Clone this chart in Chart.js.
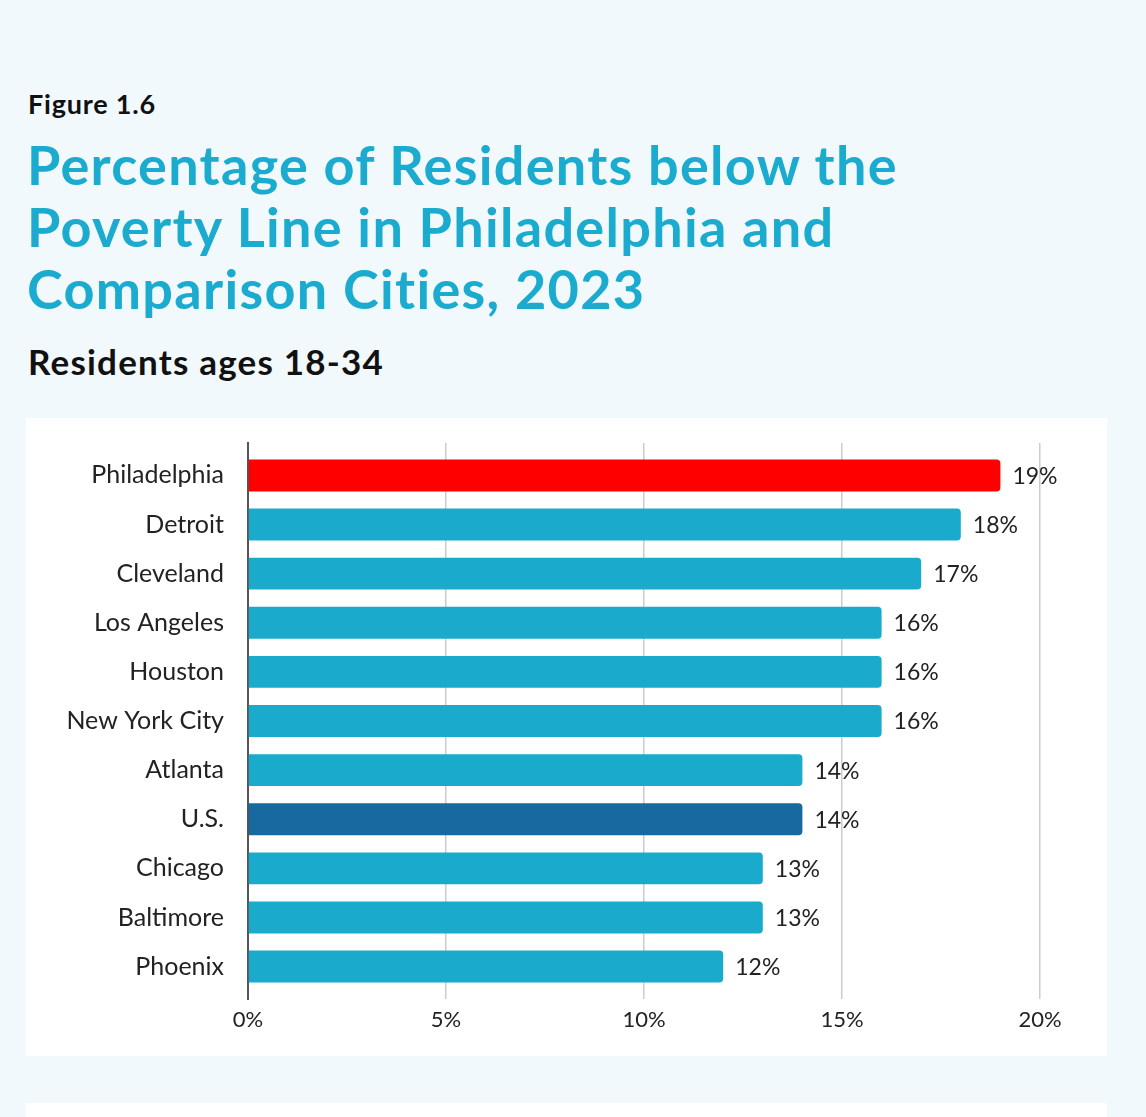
<!DOCTYPE html>
<html>
<head>
<meta charset="utf-8">
<script src="https://cdn.jsdelivr.net/npm/chart.js@4"></script>
<style>
  html, body { margin: 0; padding: 0; }
  body {
    width: 1146px;
    height: 1117px;
    background: #f2f9fc;
    position: relative;
    overflow: hidden;
    font-family: Lato, sans-serif;
  }
  .fig {
    position: absolute; left: 28px; top: 87px;
    font-size: 27px; font-weight: 700; color: #111;
    letter-spacing: 0.8px;
  }
  .title {
    position: absolute; left: 27px; top: 134px;
    font-size: 54px; font-weight: 700; color: #1aabcf;
    line-height: 62px; letter-spacing: 1.3px;
  }
  .sub {
    position: absolute; left: 28px; top: 340px;
    font-size: 35px; font-weight: 700; color: #111;
    letter-spacing: 1.2px;
  }
  .card {
    position: absolute; left: 26px; top: 418px;
    width: 1081px; height: 638px; background: #fff;
  }
  .card2 {
    position: absolute; left: 26px; top: 1103px;
    width: 1081px; height: 40px; background: #fff;
  }
</style>
</head>
<body>
<div class="fig">Figure 1.6</div>
<div class="title">Percentage of Residents below the<br>Poverty Line in Philadelphia and<br>Comparison Cities, 2023</div>
<div class="sub">Residents ages 18-34</div>
<div class="card"><canvas id="chart" width="1081" height="638"></canvas></div>
<div class="card2"></div>
<script>
const cities = ['Philadelphia', 'Detroit', 'Cleveland', 'Los Angeles', 'Houston', 'New York City',
  'Atlanta', 'U.S.', 'Chicago', 'Baltimore', 'Phoenix'];
const poverty = [19, 18, 17, 16, 16, 16, 14, 14, 13, 13, 12];
const xTicks = [0, 5, 10, 15, 20];

const barColors = cities.map(c => c === 'Philadelphia' ? '#ff0000' : (c === 'U.S.' ? '#1769a0' : '#1aabcc'));

const valueLabels = {
  id: 'valueLabels',
  afterDatasetsDraw(chart) {
    const ctx = chart.ctx;
    const meta = chart.getDatasetMeta(0);
    ctx.save();
    ctx.font = '23px Lato, sans-serif';
    ctx.fillStyle = '#222';
    ctx.textBaseline = 'middle';
    meta.data.forEach((bar, i) => {
      ctx.fillText(poverty[i] + '%', bar.x + 12, bar.y + 1);
    });
    ctx.restore();
  }
};

new Chart(document.getElementById('chart'), {
  type: 'bar',
  data: {
    labels: cities,
    datasets: [{
      data: poverty,
      backgroundColor: barColors,
      borderRadius: { topRight: 4, bottomRight: 4 },
      borderSkipped: 'start',
      categoryPercentage: 1,
      barPercentage: 0.65,
    }],
  },
  options: {
    indexAxis: 'y',
    responsive: false,
    animation: false,
    layout: { padding: { top: 25, right: 67, left: 0, bottom: 0 } },
    plugins: {
      legend: { display: false },
      tooltip: { enabled: false },
    },
    scales: {
      x: {
        min: 0,
        max: 20,
        afterBuildTicks: (axis) => { axis.ticks = xTicks.map(v => ({ value: v })); },
        afterFit: (axis) => { axis.height = 57; },
        ticks: {
          color: '#222',
          font: { family: 'Lato, sans-serif', size: 22 },
          padding: 8,
          callback: (v) => v + '%',
        },
        grid: { color: '#cccccc', lineWidth: 1.5, drawTicks: false },
        border: { display: false },
      },
      y: {
        afterFit: (axis) => {
          axis.width = 222;
          axis.paddingTop = 0;
          axis.paddingBottom = 0;
        },
        // stretch the category range a little so the axis runs past the first and last bar
        afterBuildTicks: (axis) => {
          axis._valueRange += 0.32;
          axis._startValue -= 0.16;
        },
        ticks: {
          color: '#222',
          font: { family: 'Lato, sans-serif', size: 25 },
          padding: 24,
        },
        grid: { display: false, drawTicks: false },
        border: { display: true, color: '#555', width: 2 },
      },
    },
  },
  plugins: [valueLabels],
});
</script>
</body>
</html>
